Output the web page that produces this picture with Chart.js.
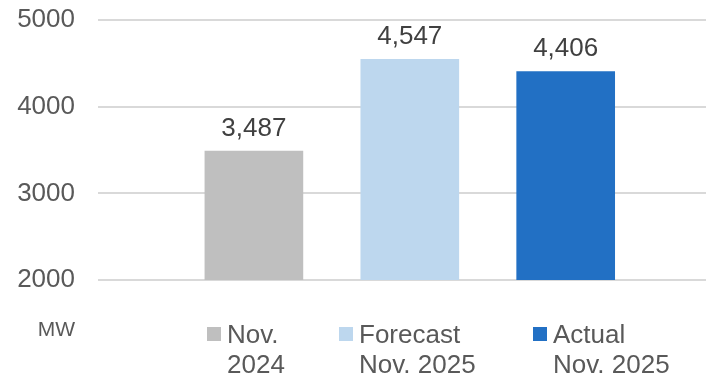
<!DOCTYPE html>
<html>
<head>
<meta charset="utf-8">
<script src="https://cdn.jsdelivr.net/npm/chart.js@4/dist/chart.umd.min.js"></script>
<style>
  html, body { margin: 0; padding: 0; background: #ffffff; }
  #wrap { width: 706px; height: 378px; }
</style>
</head>
<body>
<div id="wrap"><canvas id="c" width="706" height="378"></canvas></div>
<script>
// ---- data ----
const categories = ["Nov. 2024", "Forecast Nov. 2025", "Actual Nov. 2025"];
const legendLines = [["Nov.", "2024"], ["Forecast", "Nov. 2025"], ["Actual", "Nov. 2025"]];
const values = [3487, 4547, 4406];
const yTicks = [2000, 3000, 4000, 5000];
const unitLabel = "MW";
const colors = ["#BFBFBF", "#BDD7EE", "#2270C4"];

const FONT = "'Liberation Sans', Arial, Helvetica, sans-serif";
Chart.defaults.font.family = FONT;

const dataLabelPlugin = {
  id: 'dataLabels',
  afterDatasetsDraw(chart) {
    const ctx = chart.ctx;
    const meta = chart.getDatasetMeta(0);
    ctx.save();
    ctx.font = "26px " + FONT;
    ctx.fillStyle = "#404040";
    ctx.textAlign = "center";
    ctx.textBaseline = "alphabetic";
    meta.data.forEach((bar, i) => {
      ctx.fillText(values[i].toLocaleString('en-US'), bar.x, bar.y - 15);
    });
    ctx.restore();
  }
};

const legendPlugin = {
  id: 'customLegend',
  afterDraw(chart) {
    const ctx = chart.ctx;
    const area = chart.chartArea;
    const startX = [207, 339, 533];
    const baseY = area.bottom + 63;
    ctx.save();
    ctx.font = "26px " + FONT;
    ctx.textAlign = "left";
    ctx.textBaseline = "alphabetic";
    categories.forEach((c, i) => {
      ctx.fillStyle = colors[i];
      ctx.fillRect(startX[i], baseY - 16, 14, 14);
      ctx.fillStyle = "#595959";
      legendLines[i].forEach((line, j) => {
        ctx.fillText(line, startX[i] + 20, baseY + j * 30);
      });
    });
    // unit label
    ctx.font = "21px " + FONT;
    ctx.textAlign = "right";
    ctx.fillStyle = "#595959";
    ctx.fillText(unitLabel, area.left - 23, area.bottom + 56);
    ctx.restore();
  }
};

new Chart(document.getElementById('c'), {
  type: 'bar',
  data: {
    datasets: [{
      label: "MW",
      data: values.map((v, i) => ({ x: i + 1, y: v })),
      backgroundColor: colors,
      borderWidth: 0,
      barThickness: 98
    }]
  },
  options: {
    responsive: false,
    animation: false,
    devicePixelRatio: 1,
    layout: { padding: { top: 20, bottom: 98, left: 0, right: 0 } },
    plugins: {
      legend: { display: false },
      tooltip: { enabled: false }
    },
    scales: {
      x: {
        type: 'linear',
        min: 0,
        max: 3.9,
        offset: false,
        display: false,
        grid: { display: false }
      },
      y: {
        min: yTicks[0],
        max: yTicks[yTicks.length - 1],
        afterBuildTicks(scale) { scale.ticks = yTicks.map(v => ({ value: v })); },
        afterFit(scale) { scale.width = 98; scale.paddingTop = 0; scale.paddingBottom = 0; },
        border: { display: false },
        grid: { color: "#D9D9D9", lineWidth: 2, drawTicks: false },
        ticks: {
          padding: 23,
          color: "#595959",
          font: { size: 26, family: FONT },
          callback: (v) => String(v)
        }
      }
    }
  },
  plugins: [dataLabelPlugin, legendPlugin]
});
</script>
</body>
</html>
